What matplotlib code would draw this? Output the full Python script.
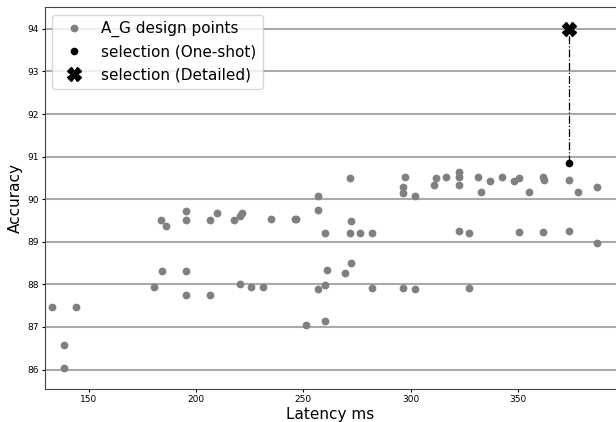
import numpy as np
import matplotlib.pyplot as plt

# design points (latency ms, accuracy)
lat = [133.2, 144.3, 138.6, 138.6, 180.6, 183.8, 186.2, 184.0, 195.2, 195.2,
       195.2, 195.2, 206.3, 206.3, 210.0, 217.6, 220.4, 221.5, 220.4, 225.7,
       231.2, 234.8, 246.1, 246.7, 251.4, 257.0, 257.0, 260.2, 257.0, 260.0,
       260.8, 259.9, 269.2, 271.5, 272.1, 271.5, 272.1, 276.5, 282.1, 282.1,
       296.3, 302.0, 297.4, 296.5, 296.5, 302.0, 310.9, 311.5, 316.4, 322.2,
       322.6, 322.2, 322.2, 327.3, 327.3, 331.1, 332.5, 336.9, 342.5, 348.0,
       350.4, 350.4, 355.2, 361.7, 362.1, 361.7, 373.6, 373.6, 377.8, 386.8,
       386.8]
acc = [87.47, 87.47, 86.57, 86.04, 87.93, 89.51, 89.37, 88.31, 89.72, 89.51,
       88.31, 87.76, 89.51, 87.76, 89.67, 89.51, 89.60, 89.67, 88.00, 87.93,
       87.93, 89.54, 89.54, 89.54, 87.04, 90.07, 89.74, 89.21, 87.90, 87.98,
       88.33, 87.14, 88.27, 90.49, 89.48, 89.21, 88.49, 89.21, 89.21, 87.92,
       87.92, 87.89, 90.51, 90.28, 90.14, 90.07, 90.34, 90.49, 90.52, 90.64,
       90.52, 90.34, 89.26, 89.21, 87.92, 90.52, 90.17, 90.42, 90.52, 90.42,
       90.49, 89.22, 90.17, 90.52, 90.44, 89.22, 90.44, 89.25, 90.17, 90.28,
       88.96]

sel_lat = 373.6
sel_oneshot = 90.84
sel_detailed = 94.0


def main():
    fig = plt.figure(figsize=(6.16, 4.22), dpi=100)
    ax = fig.add_axes([0.0726, 0.079, 0.9274, 0.904])

    ax.grid(axis="y", color="#aaaaaa", linewidth=1.5)
    ax.set_axisbelow(True)

    ax.plot(lat, acc, "o", color="gray", markersize=4.6, label="A_G design points")
    ax.plot([sel_lat, sel_lat], [sel_oneshot, sel_detailed], "-.", color="black",
            linewidth=0.9)
    ax.plot(sel_lat, sel_oneshot, "o", color="black", markersize=4.5,
            label="selection (One-shot)")
    ax.plot(sel_lat, sel_detailed, "X", color="black", markersize=10,
            label="selection (Detailed)")

    ax.set_xlim(129.6, 395.5)
    ax.set_ylim(85.55, 94.51)
    ax.set_xticks([150, 200, 250, 300, 350])
    ax.set_yticks([86, 87, 88, 89, 90, 91, 92, 93, 94])
    ax.tick_params(labelsize=6.5, length=2.5, pad=2)
    ax.spines["right"].set_visible(False)
    for s in ["left", "bottom", "top"]:
        ax.spines[s].set_color("#444444")

    ax.set_xlabel("Latency ms", fontsize=11, labelpad=2)
    ax.set_ylabel("Accuracy", fontsize=11, labelpad=3)
    ax.legend(loc="upper left", fontsize=11)

    fig.savefig("out.png", dpi=100)


if __name__ == '__main__':
    main()
